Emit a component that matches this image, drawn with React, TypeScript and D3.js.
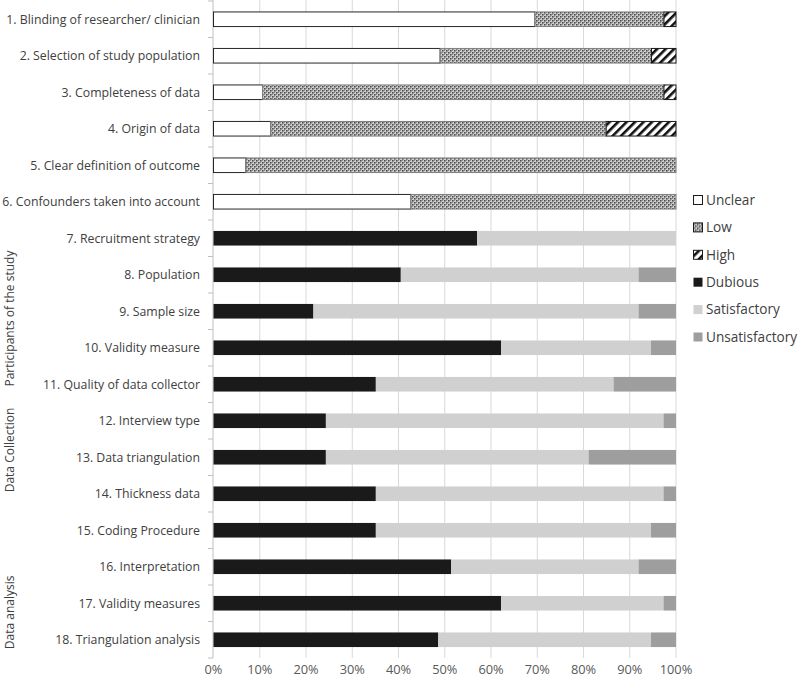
import React, { useEffect, useRef } from 'react';
import * as d3 from 'd3';

const categories = [
  '1. Blinding of researcher/ clinician',
  '2. Selection of study population',
  '3. Completeness of data',
  '4. Origin of data',
  '5. Clear definition of outcome',
  '6. Confounders taken into account',
  '7. Recruitment strategy',
  '8. Population',
  '9. Sample size',
  '10. Validity measure',
  '11. Quality of data collector',
  '12. Interview type',
  '13. Data triangulation',
  '14. Thickness data',
  '15. Coding Procedure',
  '16. Interpretation',
  '17. Validity measures',
  '18. Triangulation analysis',
];

// risk of bias, items 1-6 (%)
const unclear = [69.5, 49.0, 10.6, 12.4, 7.0, 42.7];
const low = [27.9, 45.7, 86.8, 72.5, 93.0, 57.3];
const high = [2.6, 5.3, 2.6, 15.1, 0, 0];

// quality, items 7-18 (%)
const dubious = [57.0, 40.5, 21.6, 62.2, 35.1, 24.3, 24.3, 35.1, 35.1, 51.4, 62.2, 48.6];
const satisfactory = [43.0, 51.4, 70.3, 32.4, 51.4, 73.0, 56.8, 62.2, 59.5, 40.5, 35.1, 46.0];
const unsatisfactory = [0, 8.1, 8.1, 5.4, 13.5, 2.7, 18.9, 2.7, 5.4, 8.1, 2.7, 5.4];

const seriesKeys = ['Unclear', 'Low', 'High', 'Dubious', 'Satisfactory', 'Unsatisfactory'];
const xTicks = [0, 10, 20, 30, 40, 50, 60, 70, 80, 90, 100];

const groupLabels = [
  { name: 'Participants of the study', from: 6, to: 10 },
  { name: 'Data Collection', from: 11, to: 13 },
  { name: 'Data analysis', from: 15, to: 17 },
];

const FONT = '"Open Sans", sans-serif';

const fills: Record<string, string> = {
  Unclear: '#ffffff',
  Low: 'url(#pat-low)',
  High: 'url(#pat-high)',
  Dubious: '#1a1a1a',
  Satisfactory: '#d0d0d0',
  Unsatisfactory: '#9e9e9e',
};
const strokes: Record<string, string> = {
  Unclear: '#262626',
  Low: '#808080',
  High: '#1a1a1a',
};

const App = () => {
  const svgRef = useRef<SVGSVGElement>(null);

  useEffect(() => {
    const width = 800;
    const height = 682;
    const margin = { top: 1, right: 124, bottom: 24, left: 213.5 };

    const rows = categories.map((c, i) => {
      const r: any = { category: c };
      seriesKeys.forEach(k => (r[k] = 0));
      if (i < 6) {
        r.Unclear = unclear[i];
        r.Low = low[i];
        r.High = high[i];
      } else {
        r.Dubious = dubious[i - 6];
        r.Satisfactory = satisfactory[i - 6];
        r.Unsatisfactory = unsatisfactory[i - 6];
      }
      return r;
    });

    const stacked = d3.stack().keys(seriesKeys)(rows);

    const svg = d3.select(svgRef.current);
    svg.selectAll('*').remove();
    svg.attr('width', width).attr('height', height);

    const defs = svg.append('defs');
    const pLow = defs.append('pattern')
      .attr('id', 'pat-low')
      .attr('patternUnits', 'userSpaceOnUse')
      .attr('width', 4).attr('height', 4);
    pLow.append('rect').attr('width', 4).attr('height', 4).attr('fill', '#cfcfcf');
    pLow.append('rect').attr('x', 0).attr('y', 0).attr('width', 1.6).attr('height', 1.6).attr('fill', '#4d4d4d');
    pLow.append('rect').attr('x', 2).attr('y', 2).attr('width', 1.6).attr('height', 1.6).attr('fill', '#4d4d4d');
    pLow.append('rect').attr('x', 2).attr('y', 0).attr('width', 1).attr('height', 1).attr('fill', '#8c8c8c');
    pLow.append('rect').attr('x', 0).attr('y', 2).attr('width', 1).attr('height', 1).attr('fill', '#8c8c8c');

    const pHigh = defs.append('pattern')
      .attr('id', 'pat-high')
      .attr('patternUnits', 'userSpaceOnUse')
      .attr('width', 6).attr('height', 6)
      .attr('patternTransform', 'rotate(45)');
    pHigh.append('rect').attr('width', 6).attr('height', 6).attr('fill', '#fff');
    pHigh.append('rect').attr('width', 2.6).attr('height', 6).attr('fill', '#111');

    const x = d3.scaleLinear().domain([0, 100]).range([margin.left, width - margin.right]);
    const y = d3.scaleBand()
      .domain(categories)
      .range([margin.top, height - margin.bottom])
      .paddingInner(0.6)
      .paddingOuter(0.3);
    const step = y.step();

    // gridlines
    svg.append('g')
      .selectAll('line')
      .data(xTicks.slice(1))
      .enter().append('line')
      .attr('x1', d => x(d)).attr('x2', d => x(d))
      .attr('y1', margin.top - 1).attr('y2', height - margin.bottom)
      .attr('stroke', '#d9d9d9')
      .attr('stroke-width', 1);

    // category axis
    const axisX = margin.left - 0.5;
    const axisG = svg.append('g');
    axisG.append('line')
      .attr('x1', axisX).attr('x2', axisX)
      .attr('y1', margin.top - 1).attr('y2', height - margin.bottom)
      .attr('stroke', '#bfbfbf');
    axisG.selectAll('line.tick')
      .data(d3.range(categories.length + 1))
      .enter().append('line')
      .attr('class', 'tick')
      .attr('x1', axisX - 5).attr('x2', axisX)
      .attr('y1', d => margin.top + d * step)
      .attr('y2', d => margin.top + d * step)
      .attr('stroke', '#bfbfbf');

    axisG.selectAll('text')
      .data(categories)
      .enter().append('text')
      .attr('x', 200)
      .attr('y', d => (y(d) as number) + y.bandwidth() / 2)
      .attr('dy', '0.35em')
      .attr('text-anchor', 'end')
      .attr('font-family', FONT)
      .attr('font-size', 12.3)
      .attr('fill', '#404040')
      .text(d => d);

    // bars
    stacked.forEach(s => {
      svg.append('g')
        .selectAll('rect')
        .data(s.filter(d => d[1] - d[0] > 0))
        .enter().append('rect')
        .attr('x', d => x(d[0]))
        .attr('y', d => y((d as any).data.category) as number)
        .attr('width', d => x(d[1]) - x(d[0]))
        .attr('height', y.bandwidth())
        .attr('fill', fills[s.key])
        .attr('stroke', strokes[s.key] || 'none')
        .attr('stroke-width', strokes[s.key] ? 1 : 0);
    });

    // x axis labels
    svg.append('g')
      .selectAll('text')
      .data(xTicks)
      .enter().append('text')
      .attr('x', d => x(d))
      .attr('y', height - 8)
      .attr('text-anchor', 'middle')
      .attr('font-family', FONT)
      .attr('font-size', 12.8)
      .attr('fill', '#595959')
      .text(d => d + '%');

    // group labels
    const groupOffsets = [0.2, -0.2, 0.25];
    svg.append('g')
      .selectAll('text')
      .data(groupLabels)
      .enter().append('text')
      .attr('transform', (d, i) => {
        const y0 = (y(categories[d.from]) as number) + y.bandwidth() / 2;
        const y1 = (y(categories[d.to]) as number) + y.bandwidth() / 2;
        const cy = (y0 + y1) / 2 + groupOffsets[i] * step;
        return `translate(14,${cy}) rotate(-90)`;
      })
      .attr('text-anchor', 'middle')
      .attr('font-family', FONT)
      .attr('font-size', 12)
      .attr('fill', '#404040')
      .text(d => d.name);

    // legend
    const legend = svg.append('g').attr('transform', 'translate(693,200)');
    const item = legend.selectAll('g')
      .data(seriesKeys)
      .enter().append('g')
      .attr('transform', (d, i) => `translate(0,${i * 27.4})`);
    item.append('rect')
      .attr('x', 0.5).attr('y', -4.5)
      .attr('width', 9).attr('height', 9)
      .attr('fill', d => fills[d])
      .attr('stroke', d => strokes[d] ? '#1a1a1a' : 'none');
    item.append('text')
      .attr('x', 13)
      .attr('dy', '0.35em')
      .attr('font-family', FONT)
      .attr('font-size', 13.6)
      .attr('fill', '#404040')
      .text(d => d);
  }, []);

  return (
    <div style={{ position: 'absolute', left: 0, top: 0, width: 800, height: 682, background: '#fff' }}>
      <svg ref={svgRef}></svg>
    </div>
  );
};

export default App;
